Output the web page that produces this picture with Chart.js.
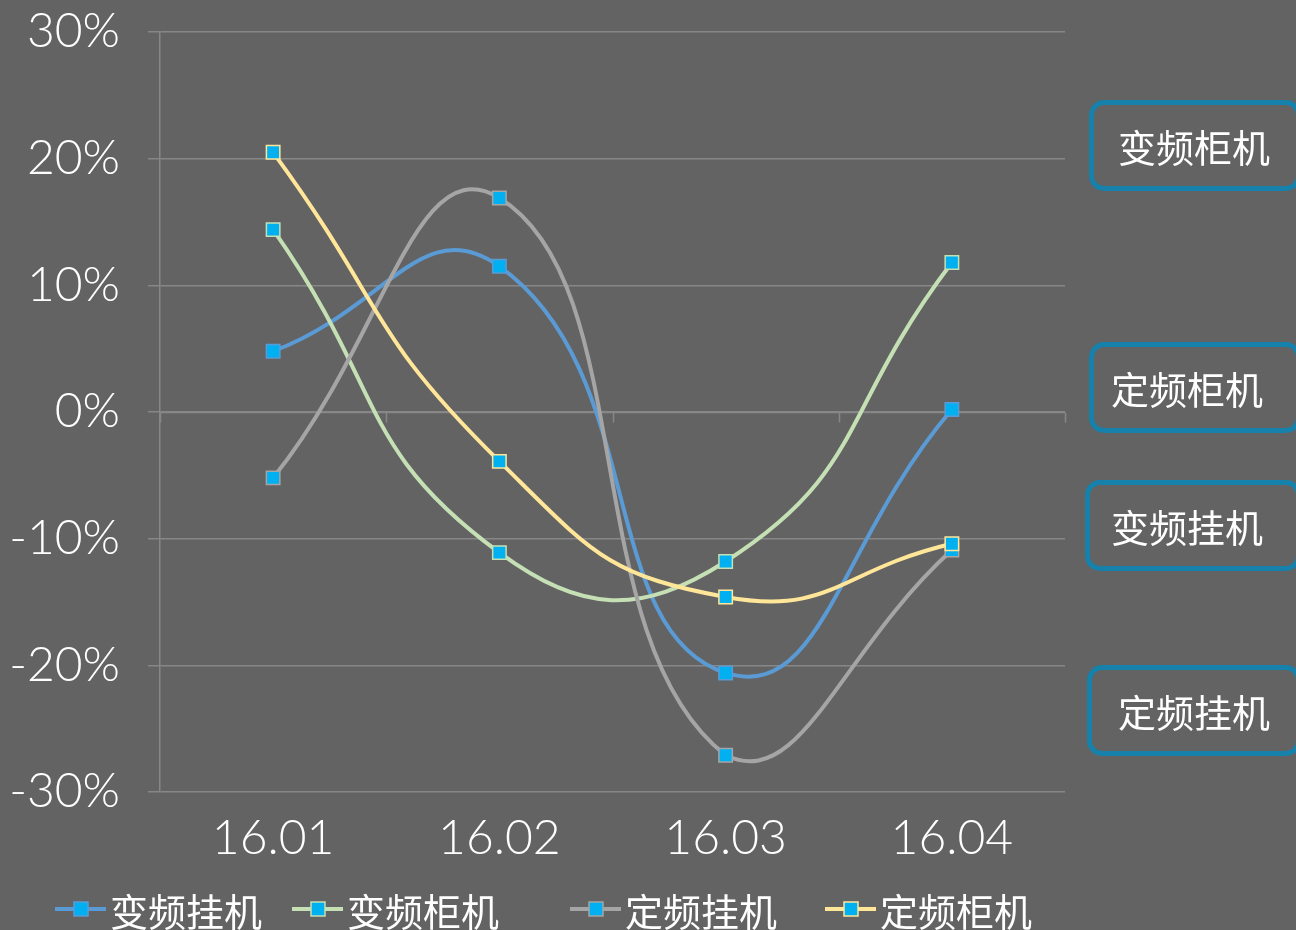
<!DOCTYPE html>
<html>
<head>
<meta charset="utf-8">
<script src="https://cdn.jsdelivr.net/npm/chart.js@4.4.1/dist/chart.umd.min.js"></script>
<style>
  html, body { margin:0; padding:0; background:#636363; overflow:hidden; }
  #wrap { position:relative; width:1296px; height:930px; }
  canvas { position:absolute; left:0; top:0; }
  .tag { position:absolute; box-sizing:border-box; border:5px solid #1681aa; border-radius:15px;
         color:#ffffff; font-family:"Noto Sans CJK SC","Noto Sans",sans-serif; font-size:38px;
         line-height:1; display:flex; align-items:center; }
</style>
</head>
<body>
<div id="wrap">
  <canvas id="c" width="1296" height="930"></canvas>
  <div class="tag" style="left:1089px;top:100px;width:212px;height:91px;padding-left:24px;">变频柜机</div>
  <div class="tag" style="left:1089px;top:342px;width:212px;height:91px;padding-left:17px;">定频柜机</div>
  <div class="tag" style="left:1085px;top:480px;width:216px;height:91px;padding-left:21px;">变频挂机</div>
  <div class="tag" style="left:1087px;top:665px;width:214px;height:91px;padding-left:26px;">定频挂机</div>
</div>
<script>
const categories = ['16.01', '16.02', '16.03', '16.04'];
const seriesNames = ['变频挂机', '变频柜机', '定频挂机', '定频柜机'];
const bpGuaji   = [4.8, 11.5, -20.6, 0.2];
const bpGuiji   = [14.4, -11.1, -11.8, 11.8];
const dpGuaji   = [-5.2, 16.9, -27.1, -10.9];
const dpGuiji   = [20.5, -3.9, -14.6, -10.4];
const seriesColors = ['#5b9bd5', '#c5e0b4', '#a5a5a5', '#ffe699'];
const yMin = -30, yMax = 30, yStep = 10;

const markerFill = '#00b0f0';
const gridColor = '#878787';
const tickFont = { family: 'Lato, "Open Sans", sans-serif', size: 48, weight: '300' };

const allData = [bpGuaji, bpGuiji, dpGuaji, dpGuiji];
const datasets = allData.map((d, i) => ({
  label: seriesNames[i],
  data: d,
  borderColor: seriesColors[i],
  backgroundColor: markerFill,
  pointBackgroundColor: markerFill,
  pointBorderColor: seriesColors[i],
  pointBorderWidth: 1.5,
  pointStyle: 'rect',
  pointRadius: 9.5,
  borderWidth: 4,
  tension: 0.5,
  order: 4 - i,
  fill: false
}));

const axisPlugin = {
  id: 'zeroAxis',
  beforeDatasetsDraw(chart) {
    const ctx = chart.ctx, y = chart.scales.y;
    const y0 = Math.round(y.getPixelForValue(0)) + 0.5;
    const a = chart.chartArea;
    ctx.save();
    ctx.strokeStyle = gridColor;
    ctx.lineWidth = 1.5;
    ctx.beginPath();
    ctx.moveTo(a.left, y0); ctx.lineTo(a.right, y0);
    const n = categories.length;
    for (let i = 0; i <= n; i++) {
      const px = Math.round(a.left + (a.right - a.left) * i / n) + 0.5;
      ctx.moveTo(px, y0); ctx.lineTo(px, y0 + 10);
    }
    ctx.stroke();
    ctx.restore();
  }
};

const legendPlugin = {
  id: 'customLegend',
  afterDraw(chart) {
    const ctx = chart.ctx;
    const starts = [55, 292, 570, 825];
    const yc = 912;
    ctx.save();
    ctx.font = '38px "Noto Sans CJK SC", "Noto Sans", sans-serif';
    ctx.textBaseline = 'middle';
    ctx.textAlign = 'left';
    chart.data.datasets.forEach((ds, i) => {
      const x = starts[i];
      ctx.strokeStyle = ds.borderColor;
      ctx.lineWidth = 4;
      ctx.beginPath(); ctx.moveTo(x, yc - 3); ctx.lineTo(x + 51, yc - 3); ctx.stroke();
      ctx.fillStyle = markerFill;
      ctx.fillRect(x + 19, yc - 10, 14, 14);
      ctx.strokeStyle = ds.borderColor; ctx.lineWidth = 1.5;
      ctx.strokeRect(x + 19, yc - 10, 14, 14);
      ctx.fillStyle = '#ffffff';
      ctx.fillText(ds.label, x + 55, yc);
    });
    ctx.restore();
  }
};

new Chart(document.getElementById('c'), {
  type: 'line',
  data: { labels: categories, datasets },
  plugins: [axisPlugin, legendPlugin],
  options: {
    responsive: false,
    animation: false,
    layout: { padding: { top: 32, right: 231, bottom: 0, left: 0 } },
    plugins: { legend: { display: false }, tooltip: { enabled: false } },
    scales: {
      x: {
        offset: true,
        grid: { display: false, drawTicks: false },
        border: { display: false },
        ticks: { color: '#ffffff', font: tickFont, padding: 18 },
        afterFit(s) { s.height = 930 - 792; s.paddingLeft = 0; s.paddingRight = 0; }
      },
      y: {
        min: yMin, max: yMax,
        ticks: { stepSize: yStep, color: '#ffffff', font: tickFont, padding: 28,
                 callback: v => v + '%' },
        grid: { color: gridColor, lineWidth: 1.5, tickLength: 12 },
        border: { display: true, color: gridColor, width: 1.5 },
        afterFit(s) { s.width = 160; s.paddingTop = 0; s.paddingBottom = 0; }
      }
    }
  }
});
</script>
</body>
</html>
